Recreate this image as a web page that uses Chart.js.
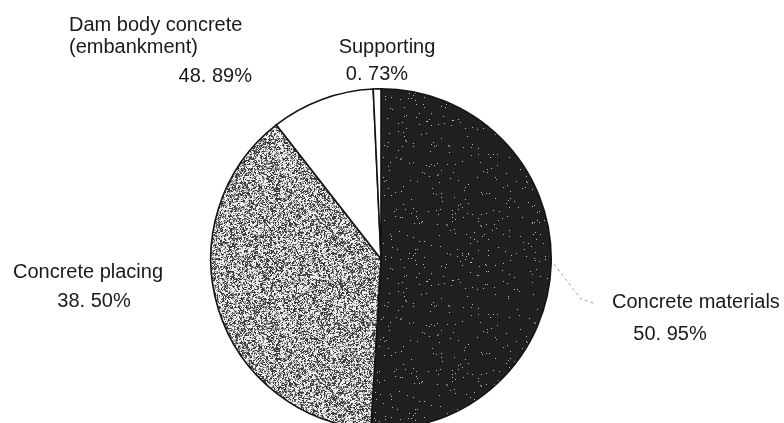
<!DOCTYPE html>
<html>
<head>
<meta charset="utf-8">
<script src="https://cdn.jsdelivr.net/npm/chart.js@4/dist/chart.umd.min.js"></script>
<style>
  html, body { margin: 0; padding: 0; background: #fff; overflow: hidden; width: 784px; height: 423px; }
  canvas { display: block; }
</style>
</head>
<body>
<canvas id="pie" width="784" height="440"></canvas>
<script>
// Cost breakdown of dam body concrete (embankment), share of each item in %
const categories = ['Concrete materials', 'Concrete placing', 'Other', 'Supporting'];
const shares = [50.95, 38.50, 9.82, 0.73];
const labelledItems = [true, true, false, true];
const groupName = ['Dam body concrete', '(embankment)'];
const groupShare = 48.89;

// "50.95" -> "50. 95%"
function pct(v) { return v.toFixed(2).replace('.', '. ') + '%'; }

// Deterministic hash for the print-like fill textures
function hash(x, y, s) {
  let h = (Math.imul(x, 374761393) + Math.imul(y, 668265263) + Math.imul(s, 1442695041)) | 0;
  h = Math.imul(h ^ (h >>> 13), 1274126177);
  h = h ^ (h >>> 16);
  return (h >>> 0) / 4294967296;
}

function makePattern(kind) {
  const size = 160;
  const cv = document.createElement('canvas');
  cv.width = cv.height = size;
  const g = cv.getContext('2d');
  const img = g.createImageData(size, size);
  for (let y = 0; y < size; y++) {
    for (let x = 0; x < size; x++) {
      let v;
      if (kind === 'dark') {
        v = 32;
        if (hash(x, y, 7) < 0.012) v = 185;
      } else {
        const n = 0.5 * hash(x, y, 3) + 0.3 * hash(x >> 1, y >> 1, 5) + 0.2 * hash((x + 1) >> 1, y, 9);
        v = n > 0.6 ? 60 : (n > 0.47 ? 145 : 236);
      }
      const i = (y * size + x) * 4;
      img.data[i] = img.data[i + 1] = img.data[i + 2] = v;
      img.data[i + 3] = 255;
    }
  }
  g.putImageData(img, 0, 0);
  return document.getElementById('pie').getContext('2d').createPattern(cv, 'repeat');
}

const fills = [makePattern('dark'), makePattern('grain'), '#ffffff', '#ffffff'];

const TEXT = '#1a1a1a';
const FONT = '20px "Liberation Sans", Arial, sans-serif';

// Item names and shares written around the pie
const labelPlugin = {
  id: 'pieLabels',
  afterDraw(chart) {
    const ctx = chart.ctx;
    const arcs = chart.getDatasetMeta(0).data;
    ctx.save();
    ctx.fillStyle = TEXT;
    ctx.font = FONT;
    ctx.textBaseline = 'alphabetic';

    // group heading, top left
    ctx.textAlign = 'left';
    ctx.fillText(groupName[0], 69, 31);
    ctx.fillText(groupName[1], 69, 53);
    ctx.textAlign = 'right';
    ctx.fillText(pct(groupShare), 252, 82);

    // per-item labels
    const place = {
      'Supporting': { name: [387, 53, 'center'], val: [377, 80, 'center'] },
      'Concrete placing': { name: [88, 278, 'center'], val: [94, 307, 'center'] },
      'Concrete materials': { name: [612, 308, 'left'], val: [670, 340, 'center'] }
    };
    categories.forEach((c, i) => {
      if (!labelledItems[i] || !place[c]) return;
      const p = place[c];
      ctx.textAlign = p.name[2];
      ctx.fillText(c, p.name[0], p.name[1]);
      ctx.textAlign = p.val[2];
      ctx.fillText(pct(shares[i]), p.val[0], p.val[1]);
    });

    // dashed leader from the materials slice to its label
    const a = arcs[0];
    const mid = (a.startAngle + a.endAngle) / 2;
    const sx = a.x + Math.cos(mid) * (a.outerRadius + 3);
    const sy = a.y + Math.sin(mid) * (a.outerRadius + 3);
    ctx.strokeStyle = '#a0a0a0';
    ctx.lineWidth = 1;
    ctx.setLineDash([3, 3]);
    ctx.beginPath();
    ctx.moveTo(sx, sy);
    ctx.lineTo(581, 299);
    ctx.lineTo(596, 304);
    ctx.stroke();
    ctx.restore();
  }
};

new Chart(document.getElementById('pie'), {
  type: 'pie',
  data: {
    labels: categories,
    datasets: [{
      data: shares,
      backgroundColor: fills,
      borderColor: '#141414',
      borderWidth: 1.6,
      borderJoinStyle: 'miter'
    }]
  },
  options: {
    responsive: false,
    animation: false,
    rotation: 0,
    layout: { padding: { left: 210, right: 232, top: 88, bottom: 10 } },
    plugins: {
      legend: { display: false },
      tooltip: { enabled: false }
    }
  },
  plugins: [labelPlugin]
});
</script>
</body>
</html>
